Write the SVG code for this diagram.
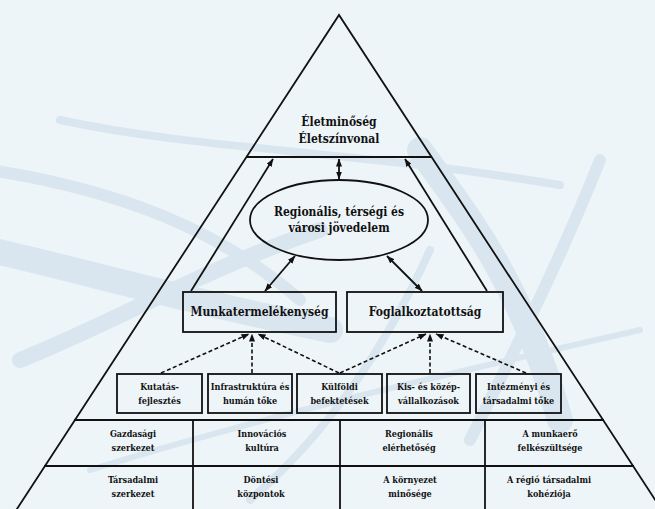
<svg xmlns="http://www.w3.org/2000/svg" width="655" height="509" viewBox="0 0 655 509">
<defs>
<style>
.ln{stroke:#111;stroke-width:1.8;fill:none}
.dl{stroke:#111;stroke-width:1.6;fill:none;stroke-dasharray:4 2.5}
.bx{fill:none;stroke:#111;stroke-width:1.8}
.t{font-family:"DejaVu Serif Condensed","DejaVu Serif",serif;font-stretch:condensed;font-weight:bold;fill:#111;text-anchor:middle}
.s{font-size:9px}
.m{font-size:12px}
.wm{fill:none;stroke:#dae6ef;stroke-linecap:round}
</style>
<marker id="ah" viewBox="0 0 8 6" refX="7.5" refY="3" markerWidth="8" markerHeight="6" markerUnits="userSpaceOnUse" orient="auto-start-reverse">
<path d="M0,0 L8,3 L0,6 z" fill="#111"/>
</marker>
</defs>
<rect width="655" height="509" fill="#eef5f9"/>
<g id="watermark">
<path class="wm" stroke-width="26" d="M-10,250 C80,270 180,300 330,330"/>
<path class="wm" stroke-width="12" d="M-10,170 C120,190 220,230 300,300"/>
<path class="wm" stroke-width="8" d="M60,120 C200,150 350,150 560,185"/>
<path class="wm" stroke-width="16" d="M20,360 C120,320 200,270 320,230"/>
<path class="wm" stroke-width="26" d="M420,150 C470,220 520,280 560,420"/>
<path class="wm" stroke-width="12" d="M600,160 C560,260 520,340 470,440"/>
<path class="wm" stroke-width="6" d="M90,470 C250,420 420,380 640,330"/>
<path class="wm" stroke-width="8" d="M250,500 C320,440 380,360 430,250"/>
</g>
<g id="frame">
<path class="ln" d="M6.5,525 L339,15 L671.5,525"/>
<line class="ln" x1="246" y1="157" x2="432" y2="157"/>
<line class="ln" x1="74" y1="420" x2="604" y2="420"/>
<line class="ln" x1="44" y1="466" x2="634" y2="466"/>
<line class="ln" x1="193" y1="420" x2="193" y2="509"/>
<line class="ln" x1="340" y1="420" x2="340" y2="509"/>
<line class="ln" x1="485" y1="420" x2="485" y2="509"/>
</g>
<g id="eletminoseg">
<text class="t m" x="339" y="126">Életminőség</text>
<text class="t m" x="339" y="143">Életszínvonal</text>
</g>
<g id="jovedelem">
<ellipse cx="339" cy="220" rx="89" ry="40" class="bx"/>
<text class="t m" x="339" y="216">Regionális, térségi és</text>
<text class="t m" x="339" y="232">városi jövedelem</text>
</g>
<g id="munkatermelekenyseg">
<rect class="bx" x="183" y="292" width="153" height="40"/>
<text class="t m" x="259.5" y="316">Munkatermelékenység</text>
</g>
<g id="foglalkoztatottsag">
<rect class="bx" x="347" y="292" width="156" height="40"/>
<text class="t m" x="425" y="316">Foglalkoztatottság</text>
</g>
<g id="kf">
<rect class="bx" x="117" y="374" width="85" height="39"/>
<text class="t s" x="159.5" y="390">Kutatás-</text>
<text class="t s" x="159.5" y="404">fejlesztés</text>
</g>
<g id="infra">
<rect class="bx" x="208" y="374" width="84" height="39"/>
<text class="t s" x="250" y="390">Infrastruktúra és</text>
<text class="t s" x="250" y="404">humán tőke</text>
</g>
<g id="kulfoldi">
<rect class="bx" x="297" y="374" width="85" height="39"/>
<text class="t s" x="339.5" y="390">Külföldi</text>
<text class="t s" x="339.5" y="404">befektetések</text>
</g>
<g id="kkv">
<rect class="bx" x="387" y="374" width="83" height="39"/>
<text class="t s" x="428.5" y="390">Kis- és közép-</text>
<text class="t s" x="428.5" y="404">vállalkozások</text>
</g>
<g id="intezmenyi">
<rect class="bx" x="476" y="374" width="85" height="39"/>
<text class="t s" x="518.5" y="390">Intézményi és</text>
<text class="t s" x="518.5" y="404">társadalmi tőke</text>
</g>
<g id="row1">
<text class="t s" x="133" y="437">Gazdasági</text>
<text class="t s" x="133" y="451">szerkezet</text>
<text class="t s" x="262" y="437">Innovációs</text>
<text class="t s" x="262" y="451">kultúra</text>
<text class="t s" x="409" y="437">Regionális</text>
<text class="t s" x="409" y="451">elérhetőség</text>
<text class="t s" x="550" y="437">A munkaerő</text>
<text class="t s" x="550" y="451">felkészültsége</text>
</g>
<g id="row2">
<text class="t s" x="133" y="483">Társadalmi</text>
<text class="t s" x="133" y="497">szerkezet</text>
<text class="t s" x="261" y="483">Döntési</text>
<text class="t s" x="261" y="497">központok</text>
<text class="t s" x="410" y="483">A környezet</text>
<text class="t s" x="410" y="497">minősége</text>
<text class="t s" x="549" y="483">A régió társadalmi</text>
<text class="t s" x="549" y="497">kohéziója</text>
</g>
<g id="connectors">
<line class="ln" x1="339" y1="159" x2="339" y2="179" marker-start="url(#ah)" marker-end="url(#ah)"/>
<line class="ln" x1="191" y1="291" x2="273" y2="159" marker-end="url(#ah)"/>
<line class="ln" x1="487" y1="291" x2="405" y2="159" marker-end="url(#ah)"/>
<line class="ln" x1="265" y1="291" x2="295" y2="256" marker-start="url(#ah)" marker-end="url(#ah)"/>
<line class="ln" x1="422" y1="291" x2="387" y2="256" marker-start="url(#ah)" marker-end="url(#ah)"/>
<line class="dl" x1="161" y1="373" x2="249" y2="334" marker-end="url(#ah)"/>
<line class="dl" x1="252" y1="373" x2="252" y2="334" marker-end="url(#ah)"/>
<line class="dl" x1="339" y1="373" x2="258" y2="334" marker-end="url(#ah)"/>
<line class="dl" x1="340" y1="373" x2="426" y2="334" marker-end="url(#ah)"/>
<line class="dl" x1="430" y1="373" x2="430" y2="334" marker-end="url(#ah)"/>
<line class="dl" x1="526" y1="373" x2="436" y2="334" marker-end="url(#ah)"/>
</g>
</svg>
